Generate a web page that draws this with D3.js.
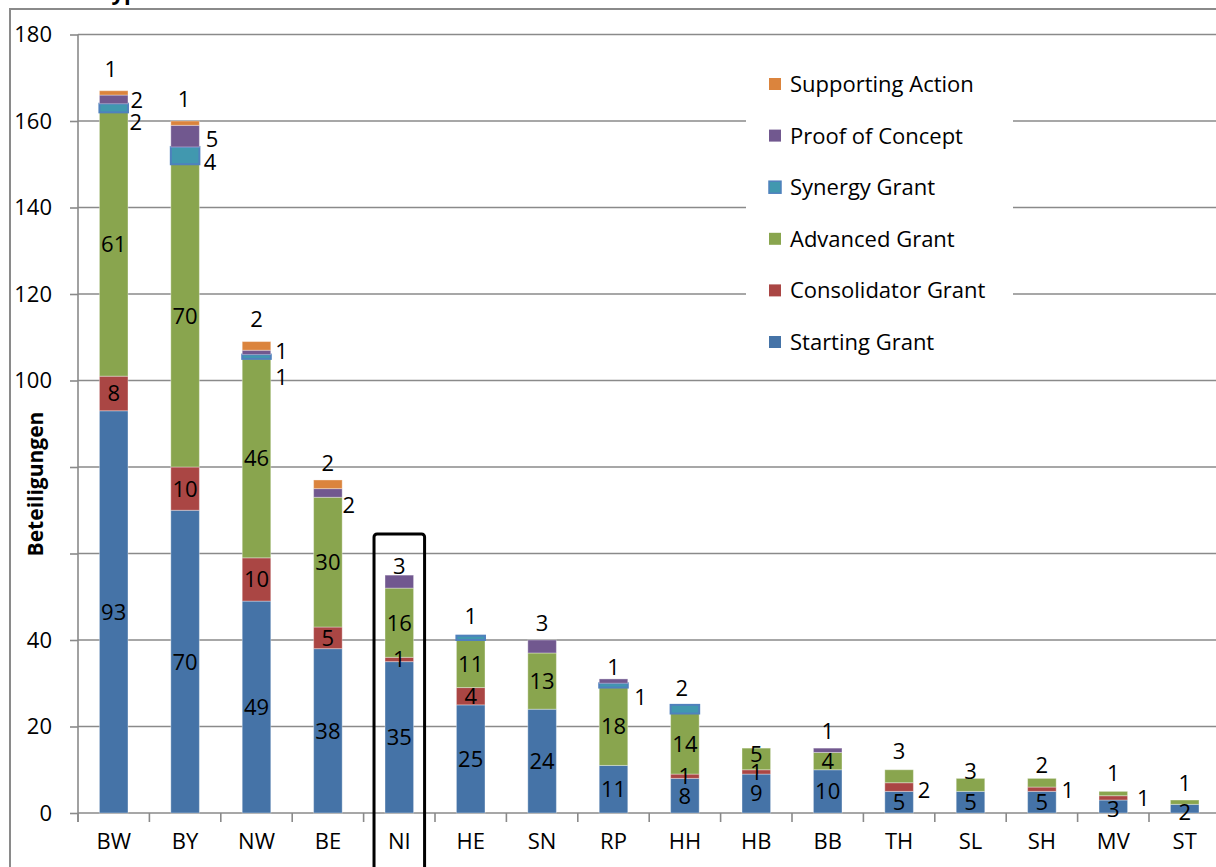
<!DOCTYPE html>
<html>
<head>
<meta charset="utf-8">
<script src="https://cdn.jsdelivr.net/npm/d3@7"></script>
<style>
  body { margin: 0; background: #fff; }
  svg { display: block; }
  text { font-family: "Open Sans", sans-serif; fill: #000; }
</style>
</head>
<body>
<svg id="chart" width="1216" height="867"></svg>
<script>
// Federal states (Bundesländer)
const states = ["BW", "BY", "NW", "BE", "NI", "HE", "SN", "RP", "HH", "HB", "BB", "TH", "SL", "SH", "MV", "ST"];

// Participations per grant type
const startingGrant      = [93, 70, 49, 38, 35, 25, 24, 11, 8, 9, 10, 5, 5, 5, 3, 2];
const consolidatorGrant  = [8, 10, 10, 5, 1, 4, 0, 0, 1, 1, 0, 2, 0, 1, 1, 0];
const advancedGrant      = [61, 70, 46, 30, 16, 11, 13, 18, 14, 5, 4, 3, 3, 2, 1, 1];
const synergyGrant       = [2, 4, 1, 0, 0, 1, 0, 1, 2, 0, 0, 0, 0, 0, 0, 0];
const proofOfConcept     = [2, 5, 1, 2, 3, 0, 3, 1, 0, 0, 1, 0, 0, 0, 0, 0];
const supportingAction   = [1, 1, 2, 2, 0, 0, 0, 0, 0, 0, 0, 0, 0, 0, 0, 0];

const seriesNames = ["Starting Grant", "Consolidator Grant", "Advanced Grant", "Synergy Grant", "Proof of Concept", "Supporting Action"];
const yTicks = [0, 20, 40, 60, 80, 100, 120, 140, 160, 180];
const highlighted = "NI";

const colors = {
  "Starting Grant": "#4573A7",
  "Consolidator Grant": "#AA4644",
  "Advanced Grant": "#89A54E",
  "Synergy Grant": "#4198AF",
  "Proof of Concept": "#71588F",
  "Supporting Action": "#DB843D"
};

// Manual nudges [dx, dy] for value labels of thin segments
const labelNudge = {
  "BW|Synergy Grant": [22, 14], "BW|Proof of Concept": [23, 1], "BW|Supporting Action": [-3, -24],
  "BY|Synergy Grant": [25, 6], "BY|Proof of Concept": [27, 3], "BY|Supporting Action": [-1, -24],
  "NW|Synergy Grant": [25, 20], "NW|Proof of Concept": [25, -1], "NW|Supporting Action": [0, -27],
  "BE|Proof of Concept": [21, 12], "BE|Supporting Action": [0, -21],
  "NI|Proof of Concept": [0, -16],
  "HE|Synergy Grant": [0, -22],
  "SN|Proof of Concept": [0, -23],
  "RP|Synergy Grant": [27, 12], "RP|Proof of Concept": [0, -14],
  "HH|Synergy Grant": [-3, -21],
  "HB|Advanced Grant": [0, -5],
  "BB|Proof of Concept": [0, -19],
  "TH|Consolidator Grant": [25, 3], "TH|Advanced Grant": [0, -25],
  "SL|Advanced Grant": [0, -14],
  "SH|Consolidator Grant": [26, 1], "SH|Advanced Grant": [0, -18],
  "MV|Starting Grant": [0, 3], "MV|Consolidator Grant": [30, 0], "MV|Advanced Grant": [0, -20],
  "ST|Starting Grant": [0, 3], "ST|Advanced Grant": [0, -19]
};

const seriesValues = [startingGrant, consolidatorGrant, advancedGrant, synergyGrant, proofOfConcept, supportingAction];
const table = states.map((s, i) => {
  const row = { state: s };
  seriesNames.forEach((n, k) => row[n] = seriesValues[k][i]);
  return row;
});

const svg = d3.select("#chart");
const W = 1216, H = 867;
const gridColor = "#8a8a8a";
const fontSize = "22px";

// Outer frame
svg.append("rect").attr("x", 10).attr("y", 9).attr("width", W + 20).attr("height", H + 20)
  .attr("fill", "#fff").attr("stroke", gridColor).attr("stroke-width", 2);

// Title, mostly above the visible area
svg.append("text").attr("x", 138).attr("y", 0).attr("text-anchor", "end")
  .style("font-size", "22px").style("font-weight", "bold").text("Grant-Typ");

const step = 71.4;
const x0 = 78;
const x = d3.scaleBand().domain(states)
  .range([x0, x0 + step * states.length])
  .paddingInner(0.6).paddingOuter(0.3);
const y = d3.scaleLinear().domain([0, 180]).range([813, 34.5]);

// Horizontal gridlines
svg.append("g").selectAll("line").data(yTicks.filter(t => t > 0)).join("line")
  .attr("x1", x0).attr("x2", W + 10)
  .attr("y1", d => y(d)).attr("y2", d => y(d))
  .attr("stroke", gridColor).attr("stroke-width", 1.6);

// Y axis
const yAxis = svg.append("g").attr("transform", `translate(${x0},0)`)
  .call(d3.axisLeft(y).tickValues(yTicks).tickSize(8).tickPadding(18).tickSizeOuter(0));
yAxis.select(".domain").remove();
yAxis.selectAll(".tick line").attr("stroke", gridColor).attr("stroke-width", 1.6);
yAxis.selectAll(".tick text").style("font-size", fontSize).style("font-family", "'Open Sans', sans-serif").attr("fill", "#000");
svg.append("line").attr("x1", x0).attr("x2", x0).attr("y1", y(180)).attr("y2", y(0) + 9)
  .attr("stroke", gridColor).attr("stroke-width", 1.6);

// X axis baseline and category boundary ticks
svg.append("line").attr("x1", x0).attr("x2", W + 10).attr("y1", y(0)).attr("y2", y(0))
  .attr("stroke", gridColor).attr("stroke-width", 1.6);
svg.append("g").selectAll("line").data(d3.range(states.length + 1)).join("line")
  .attr("x1", i => x.range()[0] + i * x.step()).attr("x2", i => x.range()[0] + i * x.step())
  .attr("y1", y(0)).attr("y2", y(0) + 9)
  .attr("stroke", gridColor).attr("stroke-width", 1.6);

const xAxis = svg.append("g").attr("transform", `translate(0,${y(0)})`)
  .call(d3.axisBottom(x).tickSize(0).tickPadding(20));
xAxis.select(".domain").remove();
xAxis.selectAll(".tick text").style("font-size", fontSize).style("font-family", "'Open Sans', sans-serif").attr("fill", "#000");

// Stacked bars
const stack = d3.stack().keys(seriesNames)(table);
const layers = svg.append("g").selectAll("g").data(stack).join("g")
  .attr("fill", d => colors[d.key]);

layers.selectAll("rect").data(d => d.map(p => ({ key: d.key, p }))).join("rect")
  .filter(d => d.p[1] - d.p[0] > 0)
  .attr("x", d => x(d.p.data.state))
  .attr("width", x.bandwidth())
  .attr("y", d => y(d.p[1]))
  .attr("height", d => y(d.p[0]) - y(d.p[1]))
  .attr("stroke", d => d.key === "Synergy Grant" ? "#4F81BD" : "rgba(255,255,255,0.35)")
  .attr("stroke-width", d => d.key === "Synergy Grant" ? 2 : 1);

// Value labels
const labels = [];
stack.forEach(layer => {
  layer.forEach(p => {
    const v = p[1] - p[0];
    if (v <= 0) return;
    const nudge = labelNudge[p.data.state + "|" + layer.key] || [0, 0];
    labels.push({
      v,
      cx: x(p.data.state) + x.bandwidth() / 2 + nudge[0],
      cy: (y(p[0]) + y(p[1])) / 2 + nudge[1]
    });
  });
});
svg.append("g").selectAll("text").data(labels).join("text")
  .attr("x", d => d.cx).attr("y", d => d.cy).attr("dy", "0.36em")
  .attr("text-anchor", "middle").style("font-size", fontSize)
  .text(d => d.v);

// Y axis title on white backing
svg.append("rect").attr("x", 20).attr("y", 396).attr("width", 36).attr("height", 180).attr("fill", "#fff");
svg.append("text").attr("transform", "translate(35,484) rotate(-90)").attr("dy", "0.36em")
  .attr("text-anchor", "middle").style("font-size", "21px").style("font-weight", "bold")
  .text("Beteiligungen");

// Highlight frame
const hx = x(highlighted);
svg.append("rect").attr("x", hx - 11).attr("y", 534).attr("width", x.bandwidth() + 22).attr("height", 360)
  .attr("rx", 3).attr("fill", "none").attr("stroke", "#000").attr("stroke-width", 3);

// Legend
const legendOrder = seriesNames.slice().reverse();
const legend = svg.append("g");
legend.append("rect").attr("x", 746).attr("y", 58).attr("width", 267).attr("height", 310).attr("fill", "#fff");
const li = legend.selectAll("g").data(legendOrder).join("g")
  .attr("transform", (d, i) => `translate(769,${84 + i * 51.6})`);
li.append("rect").attr("x", 0).attr("y", -6).attr("width", 12).attr("height", 12)
  .attr("fill", d => colors[d])
  .attr("stroke", d => d === "Synergy Grant" ? "#4F81BD" : "none").attr("stroke-width", 1.5);
li.append("text").attr("x", 21).attr("dy", "0.36em").style("font-size", fontSize).text(d => d);
</script>
</body>
</html>
